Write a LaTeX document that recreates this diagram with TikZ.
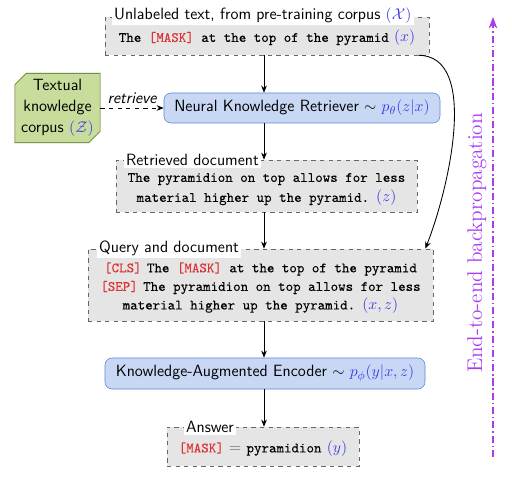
\documentclass[tikz,border=0pt]{standalone}
\usepackage{fontspec}
\newfontfamily\tfont{Latin Modern Mono}[FakeBold=0.08]
\usetikzlibrary{shapes.misc,arrows.meta,calc}
\definecolor{maskred}{RGB}{220,50,50}
\definecolor{mathblue}{RGB}{60,60,235}
\definecolor{bpurple}{RGB}{170,60,240}
\definecolor{retfill}{RGB}{200,216,244}
\definecolor{retdraw}{RGB}{90,134,216}
\definecolor{kbfill}{RGB}{200,220,156}
\definecolor{kbdraw}{RGB}{74,106,26}
\newcommand{\tx}[1]{{\fontsize{10}{13.5}\selectfont\tfont #1}}
\newcommand{\msk}[1]{\textcolor{maskred}{\tx{#1}}}
\newcommand{\mb}[1]{\textcolor{mathblue}{$#1$}}
\begin{document}
\begin{tikzpicture}[x=0.7pt,y=-0.7pt, font=\fontsize{11.4}{13.5}\selectfont\sffamily,
 databox/.style={draw=black!60, dashed, fill=black!10, align=center, inner sep=0pt},
 modelbox/.style={draw=retdraw, fill=retfill, rounded corners=5pt, inner sep=0pt},
 boxtitle/.style={fill=white, inner sep=1.5pt, anchor=west},
 arr/.style={-{Stealth[length=5pt,width=4pt]}, semithick},
 bp/.style={-{Stealth[length=8pt,width=6pt,inset=2.5pt]}, thick, draw=bpurple, dash pattern=on 5pt off 2pt on 1pt off 2pt},
]
\useasboundingbox (0,0) rectangle (512,484);
\coordinate (axis) at (264,0);

\node[databox, minimum width=226.8pt, minimum height=26.6pt] (top) at (267,36)
  {\rule{0pt}{11pt}\tx{The \msk{[MASK]} at the top of the pyramid} \mb{(x)}};
\node[boxtitle] (toplab) at ($(top.north west)+(7,-1.5)$) {Unlabeled text, from pre-training corpus \mb{(\mathcal{X})}};

\node[modelbox, minimum width=193.2pt, minimum height=21pt] (ret) at (302,108)
  {Neural Knowledge Retriever $\sim$ \mb{p_\theta(z|x)}};

\node[chamfered rectangle, chamfered rectangle corners={north west,south east},
  chamfered rectangle sep=4pt, draw=kbdraw, fill=kbfill, align=center,
  font=\fontsize{11.4}{14.5}\selectfont\sffamily,
  minimum width=59.5pt, minimum height=45.5pt, inner sep=0.5pt] (kb) at (57.5,108)
  {Textual\\knowledge\\corpus \mb{(\mathcal{Z})}};

\node[databox, minimum width=210.7pt, minimum height=36.4pt, font=\fontsize{11.4}{14}\selectfont\sffamily] (doc) at (266.5,186)
  {\rule{0pt}{11pt}\tx{The pyramidion on top allows for less}\\\tx{material higher up the pyramid.} \mb{(z)}};
\node[boxtitle] (doclab) at ($(doc.north west)+(8,0)$) {Retrieved document};

\node[databox, minimum width=241.5pt, minimum height=50.4pt, font=\fontsize{11.4}{13}\selectfont\sffamily] (q) at (260.5,285)
  {\rule{0pt}{11pt}\msk{[CLS]} \tx{The \msk{[MASK]} at the top of the pyramid}\\
   \msk{[SEP]} \tx{The pyramidion on top allows for less}\\
   \tx{material higher up the pyramid.} \mb{(x,z)}};
\node[boxtitle] (qlab) at ($(q.north west)+(9,0)$) {Query and document};

\node[modelbox, minimum width=224pt, minimum height=21.7pt] (enc) at (265,373.5)
  {Knowledge-Augmented Encoder $\sim$ \mb{p_\phi(y|x,z)}};

\node[databox, minimum width=134.4pt, minimum height=27.3pt] (ans) at (263,446.5)
  {\rule{0pt}{11pt}\msk{[MASK]} \textcolor{black!60}{$=$} \tx{pyramidion} \mb{(y)}};
\node[boxtitle] (anslab) at ($(ans.north west)+(17,0)$) {Answer};

\draw[arr] (top.south -| axis) -- (ret.north -| axis);
\draw[arr] (ret.south -| axis) -- (doc.north -| axis);
\draw[arr] (doc.south -| axis) -- (q.north -| axis);
\draw[arr] (q.south -| axis) -- (enc.north -| axis);
\draw[arr] (enc.south -| axis) -- (ans.north -| axis);

\draw[arr, dashed] (kb.east) -- node[above=3pt, inner sep=0pt, font=\fontsize{11.4}{13.5}\selectfont\sffamily\itshape] (rlab) {retrieve} (ret.west);

\coordinate (cs) at ($(top.south east)+(-11,0)$);
\coordinate (ce) at ($(q.north east)+(-8,0)$);
\draw[arr] (cs) .. controls +(62,0) and +(23,-58) .. (ce);

\coordinate (bpbot) at (493,457);
\coordinate (bptop) at (493,17);
\draw[bp] (bpbot) -- (bptop);
\node[rotate=90, text=bpurple, font=\fontsize{14.9}{18}\selectfont\rmfamily] (bplab) at (477,243) {End-to-end backpropagation};
\end{tikzpicture}
\end{document}
